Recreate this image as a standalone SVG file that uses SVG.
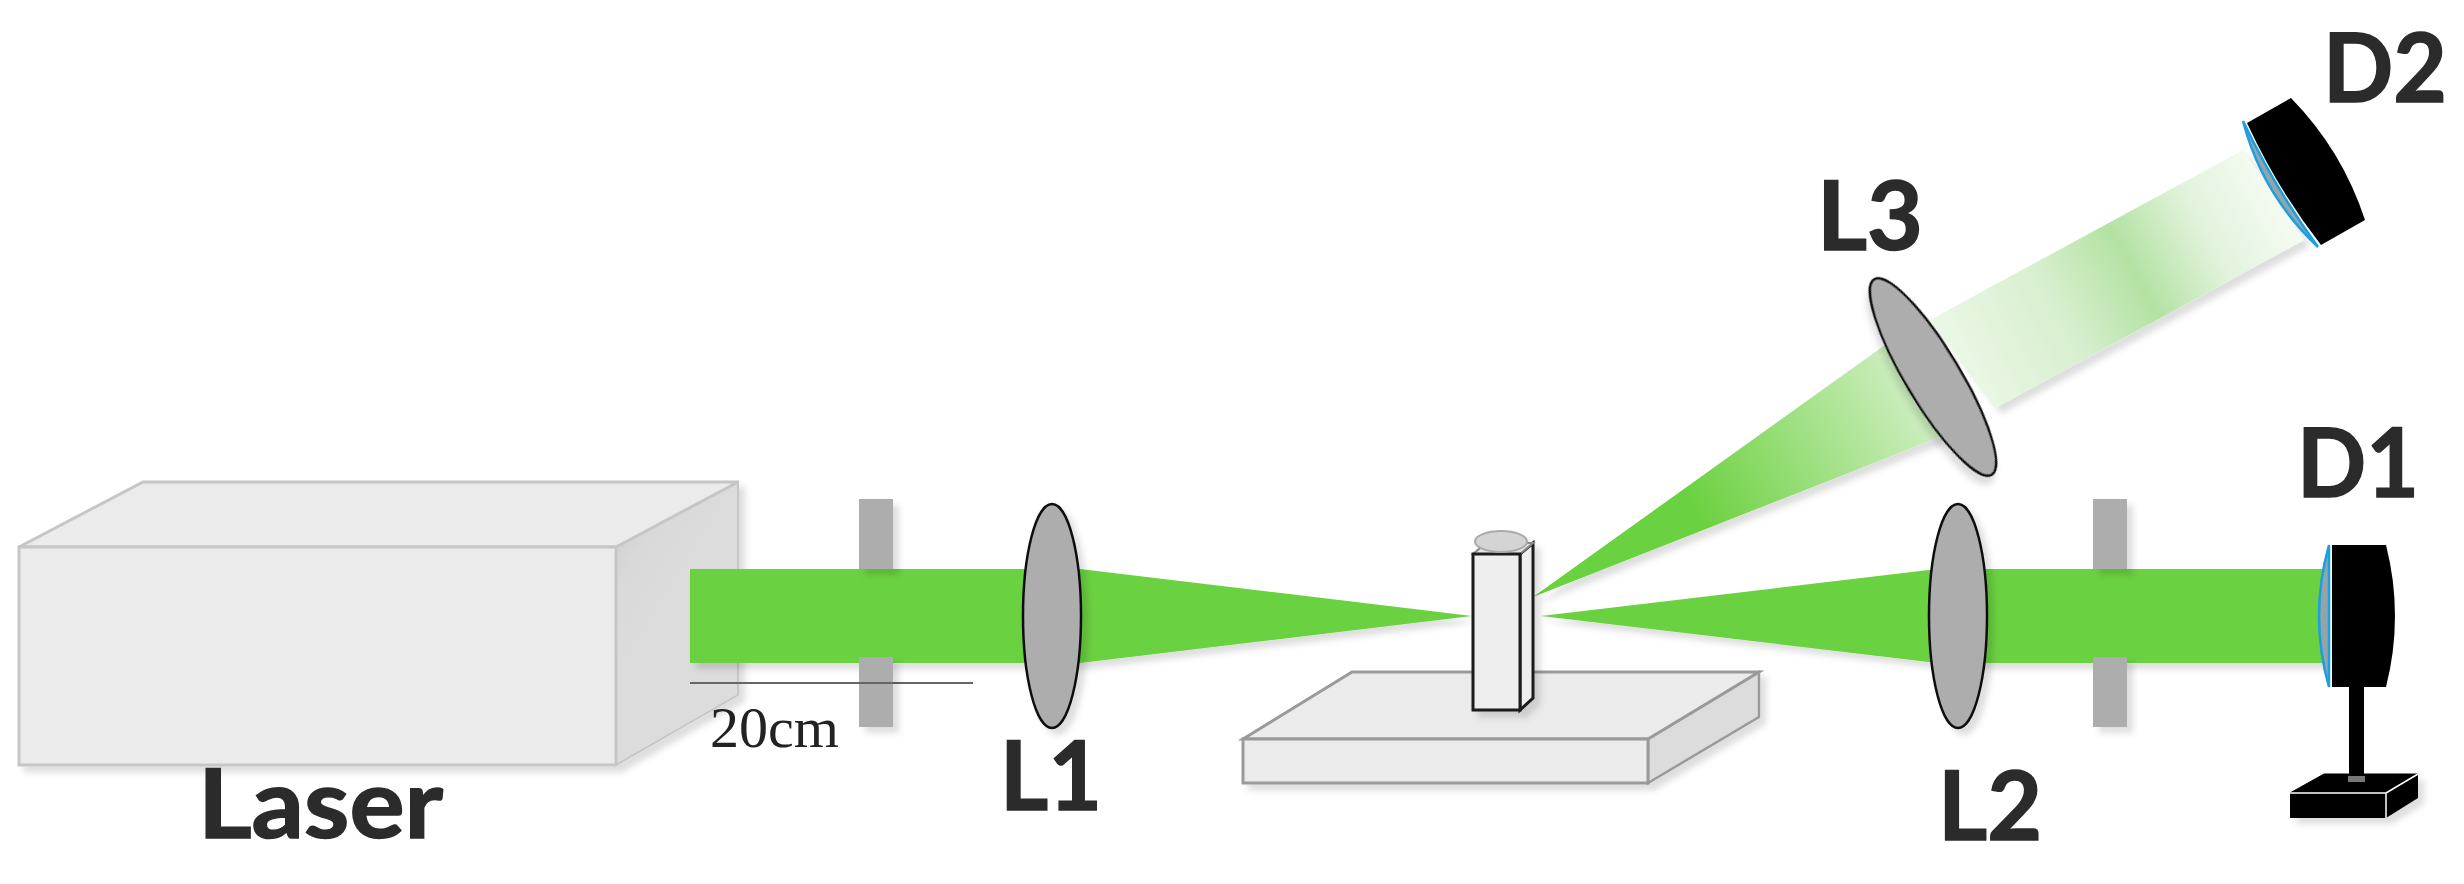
<svg xmlns="http://www.w3.org/2000/svg" width="2464" height="884" viewBox="0 0 2464 884">
<style>
.lbl{font-family:Lato,"Liberation Sans",sans-serif;font-weight:700;font-size:95px;fill:#2b2b2b;stroke:#2b2b2b;stroke-width:1.5}
.cm{font-family:"Liberation Serif",serif;font-size:57px;fill:#222}
.box{fill:#ebebeb;stroke:#c6c6c6;stroke-width:3}
.side{fill:url(#sd);stroke:#c6c6c6;stroke-width:2}
.pl{fill:#ebebeb;stroke:#9a9a9a;stroke-width:3}
.pls{fill:url(#sd);stroke:#9a9a9a;stroke-width:2.5}
.cuv{fill:#eeeeee;stroke:#1c1c1c;stroke-width:3}
.bar{fill:#adadad}
.lens{fill:#adadad;stroke:#111;stroke-width:2.5}
.beam{fill:#6bd13f}
.blk{fill:#000}
.front{fill:#93a5a8;stroke:#1a9fe0;stroke-width:2.5}
.sh{filter:url(#ds)}
</style>
<defs>
<filter id="ds" x="-20%" y="-20%" width="150%" height="150%"><feDropShadow dx="6" dy="6" stdDeviation="3" flood-color="#000" flood-opacity="0.13"/></filter>
<linearGradient id="sd" x1="0" y1="0" x2="0.35" y2="0.5"><stop offset="0" stop-color="#c9c9c9"/><stop offset="0.5" stop-color="#d9d9d9"/><stop offset="1" stop-color="#dcdcdc"/></linearGradient>
<linearGradient id="g1" gradientUnits="userSpaceOnUse" x1="1690" y1="505" x2="1950" y2="367"><stop offset="0" stop-color="#6bd13f"/><stop offset="1" stop-color="#dff3d6"/></linearGradient>
<linearGradient id="g2" gradientUnits="userSpaceOnUse" x1="1960" y1="362" x2="2285" y2="186"><stop offset="0" stop-color="#eaf7e5"/><stop offset="0.3" stop-color="#d8efcf"/><stop offset="0.53" stop-color="#b3e2a3"/><stop offset="0.75" stop-color="#e2f3dc"/><stop offset="1" stop-color="#f8fcf6"/></linearGradient>
</defs>
<rect width="2464" height="884" fill="#fff"/>
<g id="laser">
<g class="sh">
<polygon class="side" points="616,547 738,482 738,695 616,765"/>
<polygon class="box" points="19,547 143,482 738,482 616,547"/>
<rect class="box" x="19" y="547" width="597" height="218"/>
</g>
<text class="lbl" x="198" y="838" textLength="245" lengthAdjust="spacingAndGlyphs">Laser</text>
</g>
<g id="stage" class="sh">
<polygon class="pls" points="1648,739 1759,672 1759,717 1648,783"/>
<polygon class="pl" points="1243,739 1352,672 1759,672 1648,739"/>
<rect class="pl" x="1243" y="739" width="405" height="44"/>
</g>
<g id="connectors">
<g class="sh">
<polygon class="beam" points="690,569 1080,569 1472,616 1080,663 690,663"/>
<polygon class="beam" points="1541,616 1937,569 2323,569 2323,663 1937,663"/>
<polygon points="1533,597 1885,345 1945,435" fill="url(#g1)"/>
<polygon points="1930,320 2243,150 2304,240 1995,408" fill="url(#g2)"/>
</g>
<line x1="690" y1="683" x2="973" y2="683" stroke="#666" stroke-width="2"/>
</g>
<g id="aperture1" class="sh"><rect class="bar" x="859" y="499" width="34" height="70"/><rect class="bar" x="859" y="657" width="34" height="70"/></g>
<line x1="859" y1="683" x2="893" y2="683" stroke="#666" stroke-width="2"/>
<text id="dist" class="cm" x="710" y="747" textLength="129" lengthAdjust="spacingAndGlyphs">20cm</text>
<g id="L1"><ellipse class="lens sh" cx="1052" cy="616" rx="29" ry="112"/><text class="lbl" x="1000" y="810" textLength="102" lengthAdjust="spacingAndGlyphs">L1</text></g>
<g id="cuvette" class="sh">
<polygon class="cuv" points="1520,554 1533,543 1533,698 1520,710"/>
<polygon points="1473,554 1486,543 1533,543 1520,554" fill="#e4e4e4" stroke="#888" stroke-width="2"/>
<rect class="cuv" x="1473" y="554" width="47" height="156"/>
<ellipse cx="1501" cy="541.5" rx="26" ry="10.5" fill="#d4d4d4" stroke="#aaa" stroke-width="2"/>
</g>
<g id="L2"><ellipse class="lens sh" cx="1958" cy="616" rx="29" ry="112"/><text class="lbl" x="1938" y="840" textLength="104" lengthAdjust="spacingAndGlyphs">L2</text></g>
<g id="aperture2" class="sh"><rect class="bar" x="2093" y="499" width="34" height="70"/><rect class="bar" x="2093" y="657" width="34" height="70"/></g>
<g id="L3"><ellipse class="lens sh" cx="1933" cy="377" rx="114" ry="27" transform="rotate(59 1933 377)"/><text class="lbl" x="1817" y="250" textLength="106" lengthAdjust="spacingAndGlyphs">L3</text></g>
<g id="D1">
<path class="front" d="M2329,545 Q2309,616 2329,687 Z"/>
<path class="blk" d="M2332,545 H2386 Q2404,616 2386,687 H2332 Z"/>
<rect class="blk" x="2349" y="687" width="15" height="93"/>
<g class="sh">
<polygon class="blk" points="2324,774 2418,774 2386,793 2290,793" stroke="#000"/>
<rect class="blk" x="2290" y="793" width="96" height="25"/>
<polygon class="blk" points="2386,793 2418,774 2418,798 2386,818"/>
</g>
<path d="M2290,793 H2386 V818 M2386,793 L2418,774" fill="none" stroke="#fff" stroke-width="1.5"/>
<rect x="2348" y="776" width="17" height="6" fill="#777"/>
<text class="lbl" x="2297" y="497" textLength="122" lengthAdjust="spacingAndGlyphs">D1</text>
</g>
<g id="D2">
<path class="front" d="M2243,121 Q2262,194 2318,247 Q2276,190 2243,121 Z"/>
<path class="blk" d="M2247,123 L2291,98 Q2342,150 2365,220 L2321,245 Q2278,190 2247,123 Z"/>
<text class="lbl" x="2323" y="102" textLength="124" lengthAdjust="spacingAndGlyphs">D2</text>
</g>
</svg>
